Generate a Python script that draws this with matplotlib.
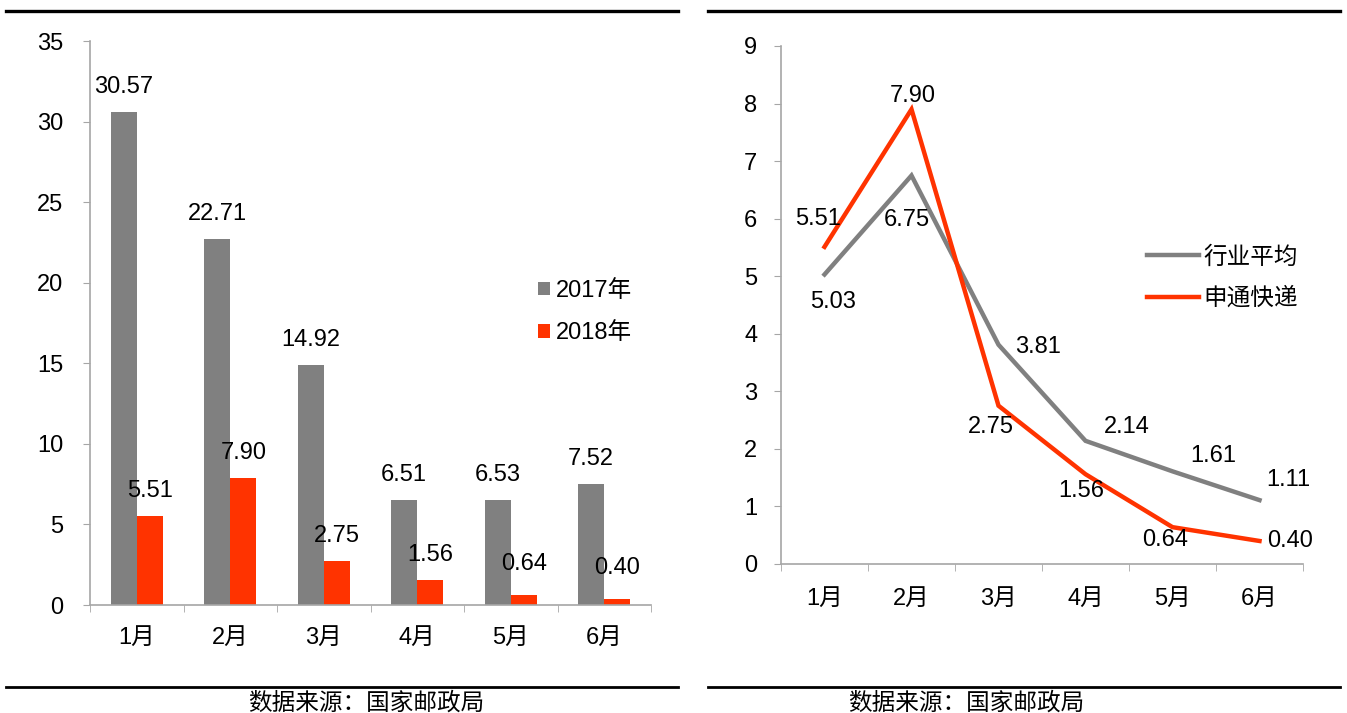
import matplotlib
matplotlib.use("Agg")
import matplotlib.pyplot as plt
from matplotlib.lines import Line2D
from matplotlib.patches import Patch
import numpy as np

plt.rcParams['font.family'] = ['Liberation Sans', 'Noto Sans CJK SC']

months = ['1月', '2月', '3月', '4月', '5月', '6月']
growth_2017 = [30.57, 22.71, 14.92, 6.51, 6.53, 7.52]
growth_2018 = [5.51, 7.90, 2.75, 1.56, 0.64, 0.40]
industry_avg = [5.03, 6.75, 3.81, 2.14, 1.61, 1.11]
sto_express = [5.51, 7.90, 2.75, 1.56, 0.64, 0.40]
caption = '数据来源：国家邮政局'

GRAY = '#808080'
RED = '#FF3300'
SPINE = '#A6A6A6'
W, H = 1347, 713

fig = plt.figure(figsize=(W / 100, H / 100), dpi=100)

def fx(px):
    return px / W

def fy(py):
    return 1 - py / H

FS = 17

# ---------- Left: bar chart ----------
axL = fig.add_axes([fx(90), fy(605), fx(651) - fx(90), fy(41) - fy(605)])
x = np.arange(len(months))
bw = 0.28
b1 = axL.bar(x - bw / 2, growth_2017, bw, color=GRAY, label='2017年')
b2 = axL.bar(x + bw / 2, growth_2018, bw, color=RED, label='2018年')
for rect, v in zip(b1, growth_2017):
    axL.annotate(f'{v:.2f}', (rect.get_x() + rect.get_width() / 2, v),
                 xytext=(0, 18), textcoords='offset points', ha='center', va='center', fontsize=FS)
for rect, v in zip(b2, growth_2018):
    dy = 22 if v < 1 else 18
    axL.annotate(f'{v:.2f}', (rect.get_x() + rect.get_width() / 2, v),
                 xytext=(0, dy), textcoords='offset points', ha='center', va='center', fontsize=FS)
axL.set_xlim(-0.5, len(months) - 0.5)
axL.set_ylim(0, 35)
axL.set_yticks(range(0, 36, 5))
axL.set_xticks(x)
axL.set_xticklabels(months)
axL.set_xticks(np.arange(-0.5, len(months)), minor=True)
axL.tick_params(axis='x', which='major', length=0, pad=16, labelsize=FS)
axL.tick_params(axis='x', which='minor', length=5, color=SPINE, direction='out')
axL.tick_params(axis='y', length=5, color=SPINE, direction='out', pad=14, labelsize=FS)
for s in ['top', 'right']:
    axL.spines[s].set_visible(False)
for s in ['left', 'bottom']:
    axL.spines[s].set_color(SPINE)
    axL.spines[s].set_linewidth(1.2)
hL = [Patch(facecolor=GRAY), Patch(facecolor=RED)]
axL.legend(hL, ['2017年', '2018年'], loc='center left',
           bbox_to_anchor=((538 - 90) / 561, (605 - 312) / 564),
           frameon=False, fontsize=FS, handlelength=0.52, handleheight=0.52,
           handletextpad=0.25, labelspacing=0.85, borderpad=0, borderaxespad=0)

# ---------- Right: line chart ----------
axR = fig.add_axes([fx(781), fy(564), fx(1303) - fx(781), fy(46) - fy(564)])
xr = np.arange(len(months))
axR.plot(xr, industry_avg, color=GRAY, lw=3.2, label='行业平均', solid_joinstyle='miter')
axR.plot(xr, sto_express, color=RED, lw=3.2, label='申通快递', solid_joinstyle='miter')

k = 0.72  # px -> points
off_avg = [(9, -28), (-5, -44), (40, -2), (41, 14), (41, 15), (29, 20)]
off_sto = [(-6, 28), (1, 13), (-8, -21), (-4, -17), (-7, -13), (31, 0)]
for xi, v, (dx, dy) in zip(xr, industry_avg, off_avg):
    axR.annotate(f'{v:.2f}', (xi, v), xytext=(dx * k, dy * k), textcoords='offset points',
                 ha='center', va='center', fontsize=FS)
for xi, v, (dx, dy) in zip(xr, sto_express, off_sto):
    axR.annotate(f'{v:.2f}', (xi, v), xytext=(dx * k, dy * k), textcoords='offset points',
                 ha='center', va='center', fontsize=FS)

axR.set_xlim(-0.5, len(months) - 0.5)
axR.set_ylim(0, 9)
axR.set_yticks(range(0, 10))
axR.set_xticks(xr)
axR.set_xticklabels(months)
axR.set_xticks(np.arange(-0.5, len(months)), minor=True)
axR.tick_params(axis='x', which='major', length=0, pad=17, labelsize=FS)
axR.tick_params(axis='x', which='minor', length=5, color=SPINE, direction='out')
axR.tick_params(axis='y', length=5, color=SPINE, direction='out', pad=12, labelsize=FS)
for s in ['top', 'right']:
    axR.spines[s].set_visible(False)
for s in ['left', 'bottom']:
    axR.spines[s].set_color(SPINE)
    axR.spines[s].set_linewidth(1.2)
axR.legend(loc='center left', bbox_to_anchor=((1147 - 781) / 522, (564 - 278) / 518),
           frameon=False, fontsize=FS, handlelength=2.2, handletextpad=0.2,
           labelspacing=0.8, borderpad=0, borderaxespad=0)

# ---------- Rules and captions ----------
for x0, x1 in [(6, 678), (708, 1340)]:
    fig.add_artist(Line2D([fx(x0), fx(x1)], [fy(11), fy(11)], color='black', lw=2.4))
    fig.add_artist(Line2D([fx(x0), fx(x1)], [fy(687), fy(687)], color='black', lw=2.0))
for cx in [366, 966]:
    fig.text(fx(cx), fy(703), caption, ha='center', va='center', fontsize=17,
             family=['Noto Sans CJK SC'])

fig.savefig('out.png', dpi=100)
